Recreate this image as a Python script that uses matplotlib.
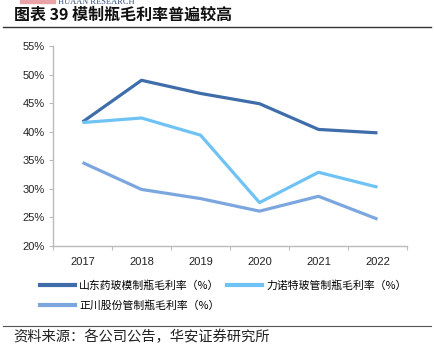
import matplotlib
matplotlib.use("Agg")
import matplotlib.pyplot as plt
from matplotlib.lines import Line2D
from matplotlib.patches import Rectangle

plt.rcParams['font.family'] = ['Noto Sans CJK SC', 'DejaVu Sans']

years = ['2017', '2018', '2019', '2020', '2021', '2022']
shandong = [41.7, 49.0, 46.7, 44.9, 40.4, 39.8]
linuote = [41.6, 42.4, 39.4, 27.6, 32.9, 30.3]
zhengchuan = [34.6, 29.9, 28.3, 26.1, 28.7, 24.7]
series_names = ['山东药玻模制瓶毛利率（%）', '力诺特玻管制瓶毛利率（%）', '正川股份管制瓶毛利率（%）']
colors = ['#3F6DAA', '#6EC3F4', '#7BA6DE']
yticks = [20, 25, 30, 35, 40, 45, 50, 55]

fig = plt.figure(figsize=(4.34, 3.5), dpi=100)
ax = fig.add_axes([53/434, 1-246/350, (407-53)/434, 200/350])

x = list(range(len(years)))
for vals, c, name in zip([shandong, linuote, zhengchuan], colors, series_names):
    ax.plot(x, vals, color=c, lw=2.3, label=name, solid_capstyle='butt')

ax.set_xlim(-0.5, len(years) - 0.5)
ax.set_ylim(20, 55)
ax.set_yticks(yticks)
ax.set_yticklabels([f'{v}%' for v in yticks], family='Liberation Sans', fontsize=8, color='#222222')
ax.set_xticks(x)
ax.set_xticklabels(years, family='Liberation Sans', fontsize=8, color='#222222')
ax.set_xticks([i - 0.5 for i in range(len(years) + 1)], minor=True)
ax.tick_params(axis='x', which='major', length=0, pad=8)
ax.tick_params(axis='x', which='minor', length=3, color='#BBBBBB', width=0.8)
ax.tick_params(axis='y', length=3, color='#BBBBBB', width=0.8, pad=3)
for s in ['top', 'right']:
    ax.spines[s].set_visible(False)
for s in ['left', 'bottom']:
    ax.spines[s].set_color('#BBBBBB')
    ax.spines[s].set_linewidth(1.0)

handles = [Line2D([], [], color=c, lw=3) for c in colors]
order = [0, 2, 1]
fig.legend([handles[i] for i in order], [series_names[i] for i in order],
           loc='upper left', bbox_to_anchor=(40/434, 1-280/350),
           ncol=2, frameon=False, fontsize=7.8, handlelength=3.2, handletextpad=0.4,
           columnspacing=0.7, labelspacing=0.9, borderpad=0, borderaxespad=0)

# header
fig.patches.append(Rectangle((20/434, 1-3/350), 35/434, 3/350, transform=fig.transFigure,
                             color='#E9A3A8', zorder=5))
fig.text(58/434, 1-1.5/350, 'HUAAN RESEARCH', family='Liberation Serif', fontsize=6,
         color='#34507A', va='center', ha='left')
fig.text(14/434, 1-15/350, '图表 39 模制瓶毛利率普遍较高', fontsize=11.5, fontweight='bold',
         va='center', ha='left', color='#111111')
fig.add_artist(Line2D([3/434, 431/434], [1-27/350, 1-27/350], color='#333333', lw=1.0))
fig.add_artist(Line2D([3/434, 431/434], [1-326/350, 1-326/350], color='#555555', lw=0.8))
fig.text(13/434, 1-337/350, '资料来源：各公司公告，华安证券研究所', fontsize=10.3,
         va='center', ha='left', color='#222222')

fig.savefig('out.png', dpi=100)
